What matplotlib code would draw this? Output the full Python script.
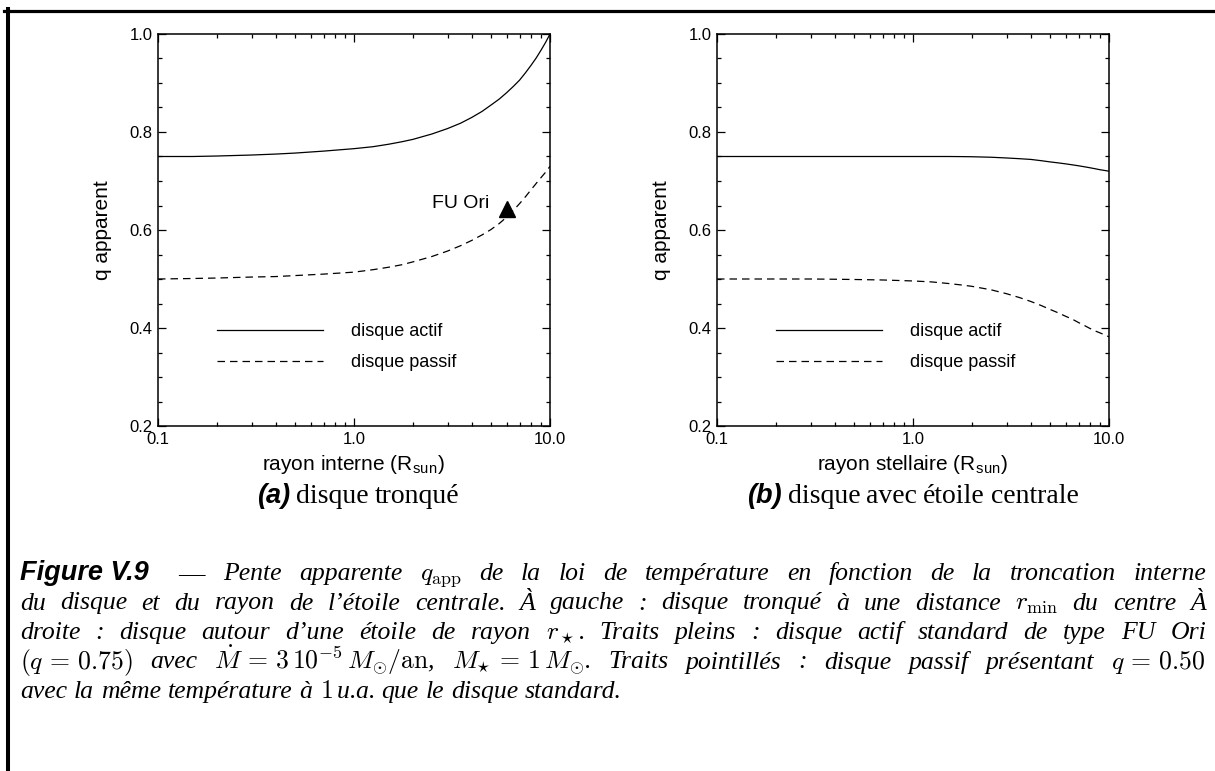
import matplotlib
matplotlib.use("Agg")
import matplotlib.pyplot as plt
from matplotlib.ticker import FixedLocator, NullFormatter, FixedFormatter, MultipleLocator
from matplotlib.transforms import IdentityTransform
from matplotlib.lines import Line2D

plt.rcParams['mathtext.fontset'] = 'cm'
plt.rcParams['font.family'] = ['Liberation Sans', 'DejaVu Sans']

# ---------------- data ----------------
r_trunc = [0.1, 0.15, 0.2, 0.3, 0.4, 0.5, 0.7, 1.0, 1.25, 1.5, 1.75, 2.0, 2.5, 3.0, 3.5,
           4.0, 4.5, 5.0, 5.5, 6.0, 6.5, 7.0, 7.5, 8.0, 8.5, 9.0, 9.5, 10.0]
q_active_trunc = [0.750, 0.750, 0.751, 0.753, 0.755, 0.757, 0.761, 0.766, 0.770, 0.775,
                  0.780, 0.785, 0.796, 0.807, 0.818, 0.830, 0.842, 0.855, 0.867, 0.880,
                  0.893, 0.906, 0.921, 0.936, 0.951, 0.967, 0.983, 1.000]
q_passive_trunc = [0.500, 0.501, 0.502, 0.504, 0.505, 0.507, 0.510, 0.514, 0.519, 0.524,
                   0.529, 0.535, 0.546, 0.557, 0.568, 0.579, 0.590, 0.601, 0.613, 0.626,
                   0.640, 0.654, 0.668, 0.682, 0.695, 0.707, 0.718, 0.730]

r_star = [0.1, 0.2, 0.3, 0.4, 0.5, 0.7, 1.0, 1.25, 1.5, 1.75, 2.0, 2.5, 3.0, 3.5, 4.0,
          4.5, 5.0, 5.5, 6.0, 6.5, 7.0, 7.5, 8.0, 8.5, 9.0, 9.5, 10.0]
q_active_star = [0.750, 0.750, 0.750, 0.750, 0.750, 0.750, 0.750, 0.750, 0.750, 0.7498,
                 0.7495, 0.7485, 0.747, 0.7455, 0.744, 0.7415, 0.739, 0.737, 0.735, 0.733,
                 0.731, 0.729, 0.727, 0.725, 0.723, 0.7215, 0.720]
q_passive_star = [0.500, 0.500, 0.500, 0.4995, 0.499, 0.498, 0.496, 0.494, 0.491, 0.488,
                  0.485, 0.478, 0.470, 0.462, 0.454, 0.446, 0.438, 0.431, 0.424, 0.418,
                  0.411, 0.405, 0.399, 0.394, 0.390, 0.386, 0.382]

fuori_r = [6.04]
fuori_q = [0.643]
fuori_label = "FU Ori"

x_ticks = [0.1, 1.0, 10.0]
x_ticklabels = ["0.1", "1.0", "10.0"]
y_ticks = [0.2, 0.4, 0.6, 0.8, 1.0]
y_ticklabels = ["0.2", "0.4", "0.6", "0.8", "1.0"]
legend_labels = ["disque actif", "disque passif"]
xlabels = [r"rayon interne (R$_{\mathregular{sun}}$)", r"rayon stellaire (R$_{\mathregular{sun}}$)"]
ylabel = "q apparent"

# ---------------- figure ----------------
W, H = 1215, 771
fig = plt.figure(figsize=(W / 100, H / 100), dpi=100)

SANS = ['Liberation Sans', 'DejaVu Sans']
SERIF = ['Liberation Serif', 'DejaVu Serif']

def make_axes(left_px):
    ax = fig.add_axes([left_px / W, (H - 426) / H, 392 / W, 392 / H])
    ax.set_xscale('log')
    ax.set_xlim(0.1, 10.0)
    ax.set_ylim(0.2, 1.0)
    ax.xaxis.set_major_locator(FixedLocator(x_ticks))
    ax.xaxis.set_major_formatter(FixedFormatter(x_ticklabels))
    ax.xaxis.set_minor_locator(FixedLocator([m * d for d in (0.1, 1.0) for m in range(2, 10)]))
    ax.xaxis.set_minor_formatter(NullFormatter())
    ax.yaxis.set_major_locator(FixedLocator(y_ticks))
    ax.yaxis.set_major_formatter(FixedFormatter(y_ticklabels))
    ax.yaxis.set_minor_locator(MultipleLocator(0.05))
    ax.tick_params(which='both', direction='in', top=True, right=True, width=0.9)
    ax.tick_params(which='major', length=6, pad=4, labelsize=12)
    ax.tick_params(which='minor', length=3.2)
    for s in ax.spines.values():
        s.set_linewidth(1.1)
    ax.set_ylabel(ylabel, fontsize=15)
    ax.yaxis.set_label_coords(-0.118, 0.5)
    return ax

axL = make_axes(158)
axR = make_axes(717)

dash = (0, (6.0, 4.0))
for ax, r, qa, qp, xl in [(axL, r_trunc, q_active_trunc, q_passive_trunc, xlabels[0]),
                          (axR, r_star, q_active_star, q_passive_star, xlabels[1])]:
    ax.plot(r, qa, color='black', lw=0.9, label=legend_labels[0])
    ax.plot(r, qp, color='black', lw=0.9, ls=dash, label=legend_labels[1])
    ax.set_xlabel(xl, fontsize=15)
    ax.xaxis.set_label_coords(0.5, -0.068)
    ax.legend(loc='upper left', bbox_to_anchor=(0.15, 0.262), frameon=False,
              fontsize=13, handlelength=5.9, handletextpad=1.55,
              labelspacing=0.78, borderpad=0, borderaxespad=0)

axL.plot(fuori_r, fuori_q, marker='^', color='black', ms=11, ls='none')
axL.text(4.9, 0.655, fuori_label, ha='right', va='center', fontsize=14)

# ---------------- text layout helpers (pixel coordinates, y from top) ----------------
renderer = fig.canvas.get_renderer()

def put(s, x, ybase, **kw):
    return fig.text(x, H - ybase, s, transform=IdentityTransform(), va='baseline', ha='left', **kw)

def layout(tokens, x0, x1, ybase, justify=True, gap=7.0, center=None):
    objs = [put(s, 0, ybase, **st) for s, st in tokens]
    ws = [o.get_window_extent(renderer).width for o in objs]
    if justify and len(objs) > 1:
        gap = (x1 - x0 - sum(ws)) / (len(objs) - 1)
    if center is not None:
        x0 = center - (sum(ws) + gap * (len(objs) - 1)) / 2
    x = x0
    for o, w in zip(objs, ws):
        o.set_x(x)
        x += w + gap
    return objs

CAP = dict(family=SERIF, style='italic', fontsize=18.5)
ROM = dict(family=SERIF, fontsize=20)
BSANS = dict(family=SANS, style='italic', weight='bold', fontsize=19.5)

def words(s, st=CAP):
    return [(w, st) for w in s.split(' ')]

# sub-captions
layout([("(a)", BSANS), ("disque", ROM), ("tronqué", ROM)], 0, 0, 503,
       justify=False, gap=6, center=358)
layout([("(b)", BSANS), ("disque", ROM), ("avec", ROM), ("étoile", ROM), ("centrale", ROM)],
       0, 0, 503, justify=False, gap=6, center=913)

# figure caption
X0, X1 = 20, 1206
LS = 29.5
Y1 = 580
put("Figure V.9", X0, Y1, **BSANS)
put("—", 178, Y1, family=SERIF, fontsize=19)
layout(words("Pente apparente") + [(r"$q_{\mathrm{app}}$", CAP)] +
       words("de la loi de température en fonction de la troncation interne"),
       223, X1, Y1)
layout(words("du disque et du rayon de l’étoile centrale. À gauche : disque tronqué à une distance") +
       [(r"$r_{\mathrm{min}}$", CAP)] + words("du centre À"),
       X0, X1, Y1 + LS)
layout(words("droite : disque autour d’une étoile de rayon") + [(r"$r_\star$.", CAP)] +
       words("Traits pleins : disque actif standard de type FU Ori"),
       X0, X1, Y1 + 2 * LS)
layout([(r"$(q\,=\,0.75)$", CAP), ("avec", CAP),
        (r"$\dot{M}\,=\,3\,10^{-5}\,M_{\odot}/\mathrm{an}$,", CAP),
        (r"$M_{\star}\,=\,1\,M_{\odot}$.", CAP)] +
       words("Traits pointillés : disque passif présentant") + [(r"$q\,=\,0.50$", CAP)],
       X0, X1, Y1 + 3 * LS)
layout(words("avec la même température à") + [(r"$1\,$u.a.", CAP)] +
       words("que le disque standard."),
       X0, X1, Y1 + 4 * LS, justify=False, gap=7)

# page border (top and left rules)
fig.add_artist(Line2D([4, W], [H - 10.5, H - 10.5], transform=IdentityTransform(),
                      color='black', lw=2.3))
fig.add_artist(Line2D([7.5, 7.5], [0, H - 9], transform=IdentityTransform(),
                      color='black', lw=2.9))

fig.savefig("out.png", dpi=100, facecolor='white')
